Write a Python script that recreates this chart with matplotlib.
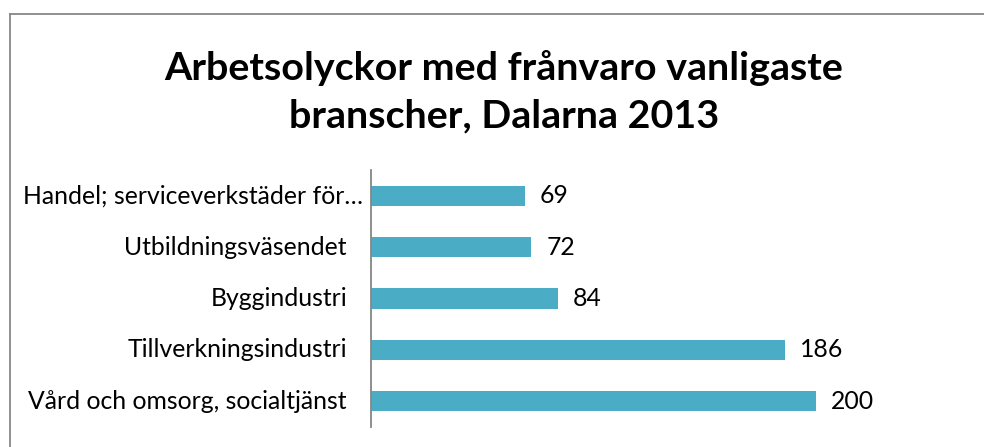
import matplotlib.pyplot as plt
from matplotlib.lines import Line2D

categories = ["Vård och omsorg, socialtjänst", "Tillverkningsindustri", "Byggindustri",
              "Utbildningsväsendet", "Handel; serviceverkstäder för…"]
values = [200, 186, 84, 72, 69]

plt.rcParams['font.family'] = ['Lato', 'DejaVu Sans']

fig = plt.figure(figsize=(9.84, 4.47), dpi=100)
ax = fig.add_axes([371 / 984, 1 - 427 / 447, (860.5 - 371) / 984, (427 - 170) / 447])

ax.barh(range(len(values)), values, height=0.39, color="#4BACC6")
for i, v in enumerate(values):
    ax.annotate(str(v), (v, i), xytext=(15, 0), textcoords="offset pixels",
                va="center", ha="left", fontsize=17.8)

# category labels (truncated one sits a bit further right, as in Excel)
for i, c in enumerate(categories):
    off = -8 if c.endswith("…") else -24
    ax.annotate(c, (0, i), xycoords=("axes fraction", "data"), xytext=(off, 0),
                textcoords="offset pixels", va="center", ha="right", fontsize=17.8)

ax.set_xlim(0, 220)
ax.set_ylim(-0.5, 4.5)
ax.set_yticks([])
ax.set_xticks([])
for s in ["top", "right", "bottom"]:
    ax.spines[s].set_visible(False)
ax.spines["left"].set_color("#868686")
ax.spines["left"].set_linewidth(1.3)

fig.text(504 / 984, 1 - 92 / 447, "Arbetsolyckor med frånvaro vanligaste\nbranscher, Dalarna 2013",
         ha="center", va="center", fontsize=28.4, fontweight="bold", linespacing=1.42)

# chart border
fig.add_artist(Line2D([10 / 984, 1], [1 - 13.5 / 447] * 2, transform=fig.transFigure, color="#878787", lw=1.3))
fig.add_artist(Line2D([10 / 984] * 2, [0, 1 - 13.5 / 447], transform=fig.transFigure, color="#878787", lw=1.3))

fig.savefig("out.png", dpi=100)
